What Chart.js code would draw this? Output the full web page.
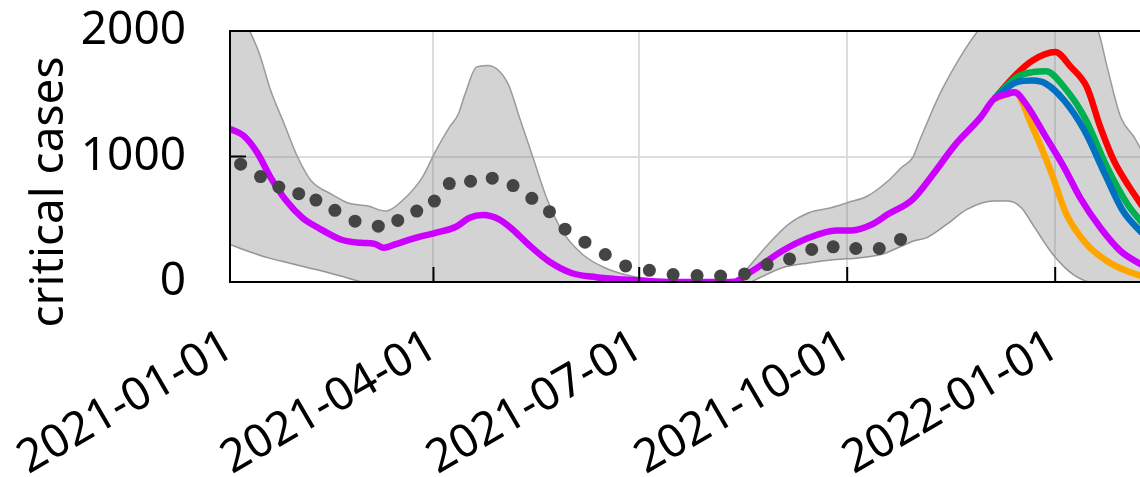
<!DOCTYPE html>
<html>
<head>
<meta charset="utf-8">
<script src="https://cdn.jsdelivr.net/npm/chart.js@4.4.1/dist/chart.umd.min.js"></script>
<style>
  html, body { margin: 0; padding: 0; overflow: hidden; background: #fff; }
  #wrap { width: 1177px; height: 477px; }
</style>
</head>
<body>
<div id="wrap"><canvas id="chart" width="1177" height="477"></canvas></div>
<script>
// x values are days since 2021-01-01
const tickDays = [0, 90, 181, 273, 365]
const tickLabels = ['2021-01-01', '2021-04-01', '2021-07-01', '2021-10-01', '2022-01-01']
const yTicks = [0, 1000, 2000]

const purpleDays = [0, 6, 12, 18, 25, 32, 39, 49, 58, 64, 68, 73, 82, 91, 100, 106, 112, 119, 125, 132, 141, 151, 162, 174, 188, 200, 212, 223, 229, 235, 244, 256, 268, 275, 284, 291, 302, 311, 321, 332, 338, 344, 347, 352, 361, 369, 376, 385, 394, 404]
const purpleValues = [1220, 1166, 1032, 832, 645, 512, 432, 339, 312, 304, 272, 299, 352, 392, 440, 512, 533, 499, 419, 299, 165, 72, 38, 19, 5, 0, 0, 3, 65, 135, 245, 352, 411, 411, 459, 539, 659, 859, 1099, 1312, 1459, 1499, 1512, 1419, 1152, 912, 672, 432, 245, 130]

const orangeDays = [338, 344, 347, 355, 363, 370, 379, 388, 397, 404]
const orangeValues = [1459, 1499, 1512, 1232, 885, 539, 299, 165, 85, 45]

const redDays = [338, 348, 355, 365, 372, 379, 385, 391, 398, 404]
const redValues = [1459, 1659, 1765, 1832, 1712, 1552, 1232, 965, 752, 592]

const greenDays = [338, 348, 355, 361, 369, 378, 388, 397, 404]
const greenValues = [1459, 1632, 1672, 1680, 1552, 1312, 912, 619, 459]

const blueDays = [338, 348, 355, 361, 369, 378, 387, 395, 404]
const blueValues = [1459, 1592, 1605, 1579, 1446, 1205, 859, 565, 379]

const upperDays = [0, 8, 13, 18, 24, 30, 36, 45, 52, 61, 69, 76, 85, 91, 97, 101, 104, 109, 114, 123, 128, 134, 140, 147, 156, 166, 178, 188, 200, 215, 224, 229, 238, 247, 256, 266, 273, 282, 291, 297, 302, 305, 314, 323, 331, 357, 384, 388, 394, 400, 404]
const upperValues = [2400, 2032, 1819, 1525, 1259, 992, 805, 699, 632, 605, 565, 645, 832, 1045, 1232, 1339, 1499, 1712, 1725, 1579, 1312, 992, 672, 405, 219, 112, 45, 19, 10, 8, 12, 112, 299, 459, 552, 592, 632, 685, 805, 912, 992, 1125, 1499, 1792, 2005, 2500, 2000, 1712, 1312, 1152, 1019]

const lowerDays = [0, 8, 17, 26, 35, 44, 52, 61, 120, 180, 229, 234, 244, 256, 268, 278, 288, 297, 302, 308, 317, 326, 338, 344, 350, 355, 364, 373, 382, 404]
const lowerValues = [299, 245, 192, 152, 112, 72, 32, -5, -10, -10, -5, 32, 112, 152, 179, 192, 219, 285, 325, 352, 459, 579, 645, 645, 592, 459, 219, 59, -5, -10]

const obsDays = [4.7, 13.5, 21.6, 30.4, 38, 46.4, 55.3, 65.6, 74.2, 82.6, 90.4, 97, 106.4, 116, 125.2, 133.5, 141.3, 148.2, 157, 166, 175, 185.5, 196, 206.6, 217, 227.6, 237.6, 247.5, 257.3, 266.8, 276.8, 287.2, 296.6]
const obsValues = [939, 840, 757, 704, 653, 571, 485, 445, 491, 565, 645, 784, 803, 827, 768, 667, 560, 421, 317, 219, 128, 93, 59, 51, 48, 64, 139, 184, 259, 280, 267, 267, 339]

const toPoints = (days, values) => days.map((d, i) => ({x: d, y: values[i]}))

const fontFamily = "'Noto Sans', 'DejaVu Sans', sans-serif"

function line(days, values, color, order) {
  return {
    data: toPoints(days, values),
    borderColor: color,
    borderWidth: 6.5,
    pointRadius: 0,
    cubicInterpolationMode: 'monotone',
    fill: false,
    order: order
  }
}

// frame, inward ticks and the y title
const framePlugin = {
  id: 'frame',
  afterDraw(chart) {
    const ctx = chart.ctx
    const a = chart.chartArea
    const xs = chart.scales.x
    const ys = chart.scales.y
    ctx.save()
    ctx.strokeStyle = '#000'
    ctx.lineWidth = 2
    ctx.strokeRect(a.left, a.top, a.right - a.left, a.bottom - a.top)
    ctx.beginPath()
    tickDays.forEach(d => {
      const px = xs.getPixelForValue(d)
      ctx.moveTo(px, a.bottom)
      ctx.lineTo(px, a.bottom - 15)
    })
    yTicks.forEach(v => {
      const py = ys.getPixelForValue(v)
      ctx.moveTo(a.left, py)
      ctx.lineTo(a.left + 16, py)
    })
    ctx.stroke()

    ctx.fillStyle = '#000'
    ctx.font = '46px ' + fontFamily
    ctx.textAlign = 'center'
    ctx.textBaseline = 'middle'
    ctx.translate(50, 192)
    ctx.rotate(-Math.PI / 2)
    ctx.fillText('critical cases', 0, 0)
    ctx.restore()
  }
}

const config = {
  type: 'line',
  data: {
    datasets: [
      {
        data: toPoints(upperDays, upperValues),
        borderColor: '#9a9a9a',
        borderWidth: 1.5,
        backgroundColor: 'rgba(128,128,128,0.35)',
        pointRadius: 0,
        cubicInterpolationMode: 'monotone',
        fill: '+1',
        order: 10
      },
      {
        data: toPoints(lowerDays, lowerValues),
        borderColor: '#9a9a9a',
        borderWidth: 1.5,
        pointRadius: 0,
        cubicInterpolationMode: 'monotone',
        fill: false,
        order: 11
      },
      line(orangeDays, orangeValues, '#ffa500', 6),
      line(redDays, redValues, '#ff0000', 5),
      line(greenDays, greenValues, '#00b050', 4),
      line(blueDays, blueValues, '#0070c0', 3),
      line(purpleDays, purpleValues, '#cc00ff', 2),
      {
        data: toPoints(obsDays, obsValues),
        showLine: false,
        pointRadius: 6.5,
        pointBackgroundColor: '#444444',
        pointBorderWidth: 0,
        order: 1
      }
    ]
  },
  options: {
    responsive: false,
    animation: false,
    layout: { padding: { top: 31, right: 0, bottom: 0, left: 0 } },
    plugins: {
      legend: { display: false },
      tooltip: { enabled: false }
    },
    scales: {
      x: {
        type: 'linear',
        min: 0,
        max: 416,
        afterBuildTicks: scale => { scale.ticks = tickDays.map(v => ({value: v})) },
        afterFit: scale => {
          scale.height = 195
          scale.paddingLeft = 0
          scale.paddingRight = 0
        },
        ticks: {
          autoSkip: false,
          maxRotation: 30,
          minRotation: 30,
          padding: 37,
          color: '#000',
          font: { family: fontFamily, size: 46 },
          callback: v => tickLabels[tickDays.indexOf(v)]
        },
        grid: { color: '#dddddd', lineWidth: 2, drawTicks: false },
        border: { display: false }
      },
      y: {
        min: 0,
        max: 2000,
        afterBuildTicks: scale => { scale.ticks = yTicks.map(v => ({value: v})) },
        afterFit: scale => {
          scale.width = 230
          scale.paddingTop = 0
          scale.paddingBottom = 0
        },
        ticks: {
          padding: 44,
          color: '#000',
          font: { family: fontFamily, size: 46 },
          callback: v => String(v)
        },
        grid: { color: '#dddddd', lineWidth: 2, drawTicks: false },
        border: { display: false }
      }
    }
  },
  plugins: [framePlugin]
}

const chart = new Chart(document.getElementById('chart'), config)
</script>
</body>
</html>
